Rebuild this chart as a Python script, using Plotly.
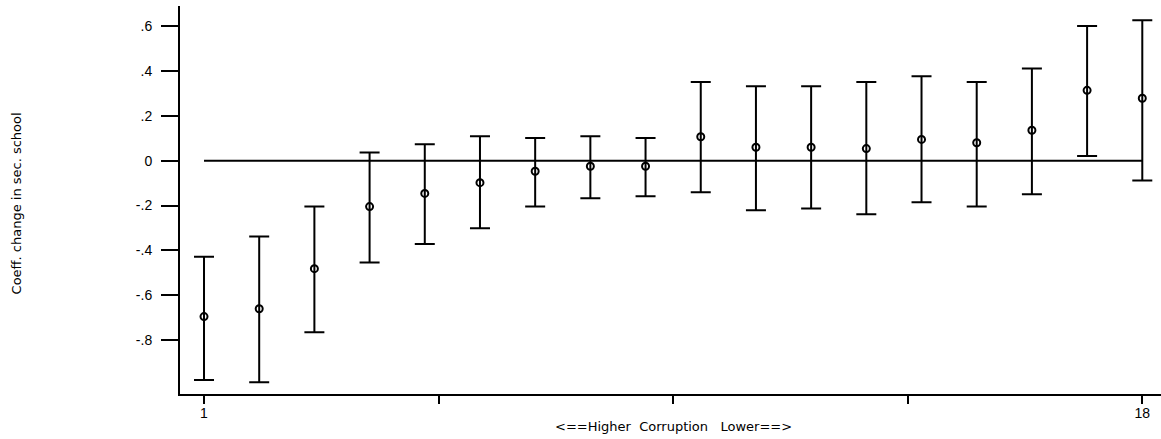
import plotly.graph_objects as go

# Data
groups = list(range(1, 19))
coef = [-0.696, -0.661, -0.482, -0.205, -0.146, -0.098, -0.047, -0.025, -0.025,
        0.107, 0.060, 0.060, 0.054, 0.095, 0.080, 0.136, 0.314, 0.279]
upper = [-0.429, -0.338, -0.205, 0.037, 0.073, 0.109, 0.101, 0.109, 0.101,
         0.351, 0.332, 0.332, 0.351, 0.377, 0.351, 0.412, 0.601, 0.627]
lower = [-0.979, -0.989, -0.766, -0.454, -0.372, -0.302, -0.204, -0.168, -0.159,
         -0.141, -0.221, -0.213, -0.239, -0.186, -0.204, -0.150, 0.021, -0.088]

y_tickvals = [0.6, 0.4, 0.2, 0, -0.2, -0.4, -0.6, -0.8]
y_ticktext = [".6", ".4", ".2", "0", "-.2", "-.4", "-.6", "-.8"]
x_tickvals = [1, 5.25, 9.5, 13.75, 18]
x_ticktext = ["1", "", "", "", "18"]

err_plus = [u - c for u, c in zip(upper, coef)]
err_minus = [c - l for c, l in zip(coef, lower)]

fig = go.Figure()

# zero reference line
fig.add_trace(go.Scatter(
    x=[groups[0], groups[-1]], y=[0, 0], mode="lines",
    line=dict(color="black", width=2), hoverinfo="skip", showlegend=False))

fig.add_trace(go.Scatter(
    x=groups, y=coef, mode="markers",
    marker=dict(symbol="circle-open", size=7, color="black", line=dict(width=2, color="black")),
    error_y=dict(type="data", symmetric=False, array=err_plus, arrayminus=err_minus,
                 color="black", thickness=2, width=10),
    showlegend=False))

tick_font = dict(family="Liberation Sans, Arial, sans-serif", size=14, color="black")
title_font = dict(family="DejaVu Sans, sans-serif", size=13, color="black")

fig.update_layout(
    width=1161, height=439,
    margin=dict(l=180, r=0, t=6, b=45),
    paper_bgcolor="white", plot_bgcolor="white",
    xaxis=dict(range=[0.565, 18.339], tickvals=x_tickvals, ticktext=x_ticktext,
               showgrid=False, zeroline=False, showline=True, linecolor="black", linewidth=2,
               ticks="outside", ticklen=8, tickwidth=2, tickcolor="black",
               tickfont=tick_font, ticklabelstandoff=-3),
    yaxis=dict(range=[-1.0415, 0.6906], tickvals=y_tickvals, ticktext=y_ticktext,
               showgrid=False, zeroline=False, showline=True, linecolor="black", linewidth=2,
               ticks="outside", ticklen=17, tickwidth=2, tickcolor="black",
               tickfont=tick_font, ticklabelstandoff=6),
    annotations=[
        dict(text="Coeff. change in sec. school", xref="paper", yref="paper",
             x=-0.1662, y=0.491, xanchor="center", yanchor="middle",
             textangle=-90, showarrow=False, font=title_font),
        dict(text="<==Higher  Corruption   Lower==>".replace(" ", "&nbsp;"), xref="paper", yref="paper",
             x=0.503, y=-0.0843, xanchor="center", yanchor="middle",
             showarrow=False, font=title_font),
    ],
)

fig.write_html("out.html", config={"displayModeBar": False},
               post_script="document.body.style.margin='0';document.body.style.overflow='hidden';")
